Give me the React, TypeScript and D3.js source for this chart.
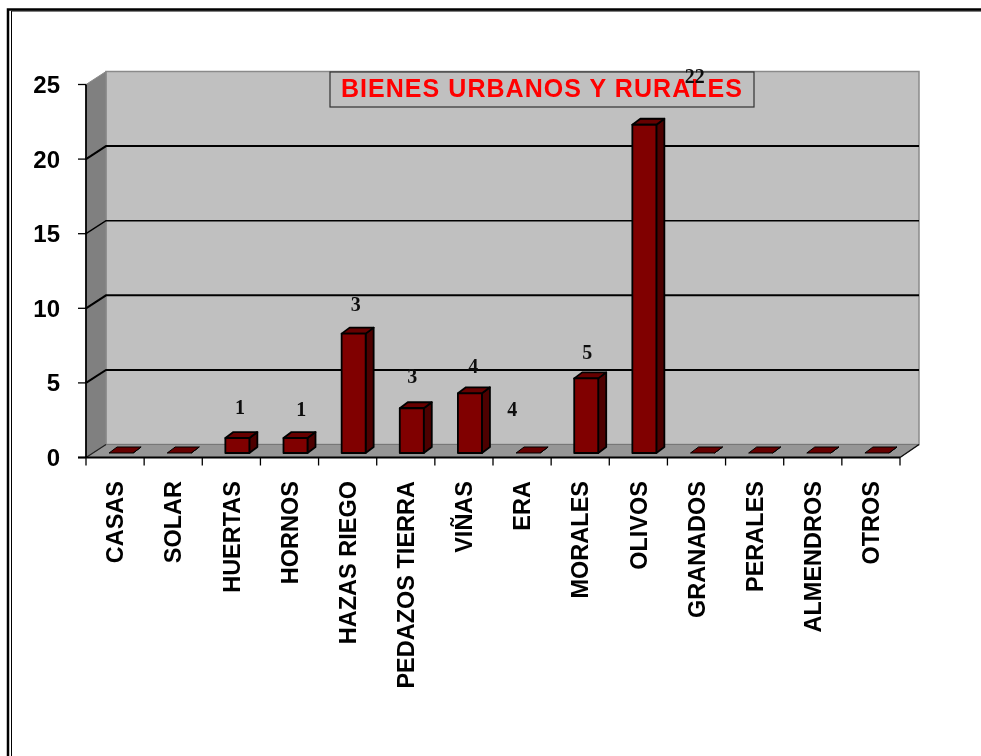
import React from "react";
import * as d3 from "d3";

const categories = ["CASAS","SOLAR","HUERTAS","HORNOS","HAZAS RIEGO","PEDAZOS TIERRA","VIÑAS","ERA","MORALES","OLIVOS","GRANADOS","PERALES","ALMENDROS","OTROS"];
const values = [0,0,1,1,8,3,4,0,5,22,0,0,0,0];
const yTicks = [0,5,10,15,20,25];
const chartTitle = "BIENES URBANOS Y RURALES";
// Stray data labels as they sit in the picture: text, category position, height in axis units
const labelTexts = ["1","1","3","3","4","4","5","22"];
const labelCategoryPos = [2.65,3.70,4.64,5.61,6.66,7.33,8.62,10.47];
const labelHeights = [2.92,2.81,9.82,4.99,5.66,2.78,6.6,25.1];

const W = 981, H = 756;
const x0 = 86, x1 = 900, yB = 457.5, yT = 84.5, dx = 20, dy = -13;
const barDx = 8, barDy = -6, barW = 24;

const x = d3.scaleBand<number>().domain(d3.range(categories.length)).range([x0, x1]);
const xPos = d3.scaleLinear().domain([0, categories.length]).range([x0, x1]);
const y = d3.scaleLinear().domain([0, 25]).range([yB, yT]);
const poly = (p: number[][]) => p.map(q => q.join(",")).join(" ");

export default function App() {
  const font = "'Liberation Sans', Arial, sans-serif";
  return (
    <svg width={W} height={H} style={{ position: "absolute", left: 0, top: 0, display: "block", background: "#fff" }}>
      <defs>
        <filter id="soft" x="-5%" y="-5%" width="110%" height="110%"><feGaussianBlur stdDeviation="0.45" /></filter>
      </defs>
      <g filter="url(#soft)">
        {/* frame */}
        <path d="M8 756V9.5H981" fill="none" stroke="#000" strokeWidth={2.5} />
        <path d="M11.5 756V11H981" fill="none" stroke="#000" strokeWidth={1} />

        {/* walls */}
        <polygon points={poly([[x0 + dx, yT + dy],[x1 + dx - 1, yT + dy],[x1 + dx - 1, yB + dy],[x0 + dx, yB + dy]])} fill="#c0c0c0" stroke="#8a8a8a" strokeWidth={1.5} />
        <polygon points={poly([[x0, yT],[x0 + dx, yT + dy],[x0 + dx, yB + dy],[x0, yB]])} fill="#808080" stroke="#8a8a8a" strokeWidth={1} />
        <polygon points={poly([[x0, yB],[x0 + dx, yB + dy],[x1 + dx - 1, yB + dy],[x1, yB]])} fill="#969696" stroke="#777" strokeWidth={1} />
        <line x1={x1} y1={yB} x2={x1 + dx - 1} y2={yB + dy} stroke="#111" strokeWidth={1.4} />
        <line x1={x0} y1={yB} x2={x0 + dx} y2={yB + dy} stroke="#222" strokeWidth={1.2} />

        {/* gridlines */}
        {yTicks.filter(t => t > 0 && t < 25).map(t => (
          <path key={t} d={`M${x0} ${y(t)}L${x0 + dx} ${y(t) + dy}H${x1 + dx - 1}`} fill="none" stroke="#000" strokeWidth={t === 15 ? 1.4 : 2} />
        ))}

        {/* axes */}
        <line x1={x0} x2={x0} y1={yT} y2={yB} stroke="#000" strokeWidth={1.8} />
        <line x1={x0 - 8} x2={x1} y1={yB} y2={yB} stroke="#000" strokeWidth={2} />
        {yTicks.map(t => (
          <g key={t}>
            <line x1={x0 - 8} x2={x0} y1={y(t)} y2={y(t)} stroke="#000" strokeWidth={1.3} />
            <text x={x0 - 26} y={y(t) + 8.5} textAnchor="end" fontFamily={font} fontWeight="bold" fontSize={24} fill="#000">{t}</text>
          </g>
        ))}
        {d3.range(categories.length + 1).map(i => (
          <line key={i} x1={xPos(i)} x2={xPos(i)} y1={yB} y2={yB + 8} stroke="#000" strokeWidth={1.3} />
        ))}

        {/* bars */}
        {values.map((v, i) => {
          const l = (x(i) as number) + (x.bandwidth() - barW) / 2 + 6;
          const r = l + barW;
          const b = yB - 4.5;
          const t = y(v) - 4.5;
          return (
            <g key={i} stroke="#000" strokeWidth={v === 0 ? 1 : 1.8} strokeLinejoin="round">
              <polygon points={poly([[r, t],[r + barDx, t + barDy],[r + barDx, b + barDy],[r, b]])} fill="#4d0000" />
              <polygon points={poly([[l, t],[l + barDx, t + barDy],[r + barDx, t + barDy],[r, t]])} fill="#660000" />
              <rect x={l} y={t} width={barW} height={b - t} fill="#800000" />
            </g>
          );
        })}

        {/* title box */}
        <rect x={330} y={72} width={424} height={35} fill="#c0c0c0" stroke="#333" strokeWidth={1.2} />
        <text x={542} y={97} textAnchor="middle" fontFamily={font} fontWeight="bold" fontSize={25} letterSpacing={1.05} fill="#ff0000">{chartTitle}</text>

        {/* data labels */}
        {labelTexts.map((t, i) => (
          <text key={i} x={xPos(labelCategoryPos[i])} y={y(labelHeights[i])} textAnchor="middle" fontFamily="'Liberation Serif', 'Times New Roman', serif" fontWeight="bold" fontSize={20} fill="#111">{t}</text>
        ))}

        {/* category labels */}
        {categories.map((c, i) => (
          <text key={c} transform={`translate(${(x(i) as number) + x.bandwidth() / 2},481) rotate(-90)`} dy="0.35em" textAnchor="end" fontFamily={font} fontWeight="bold" fontSize={23.5} fill="#000">{c}</text>
        ))}
      </g>
    </svg>
  );
}
